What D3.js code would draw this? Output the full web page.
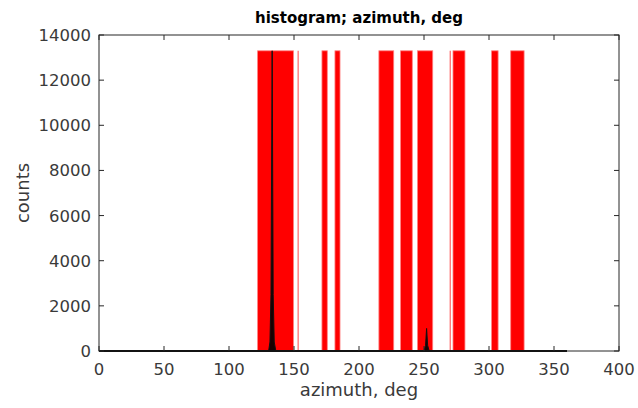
<!DOCTYPE html>
<html>
<head>
<meta charset="utf-8">
<script src="https://cdn.jsdelivr.net/npm/d3@7"></script>
<style>
  body { margin: 0; background: #fff; }
  text { font-family: "DejaVu Sans", sans-serif; }
</style>
</head>
<body>
<svg id="chart" width="638" height="408"></svg>
<script>
// red bands (azimuth ranges, deg) drawn full height
const bandStart = [122, 171.5, 181.5, 215.3, 232, 245, 272.3, 302, 316.7];
const bandEnd   = [149.6, 175.6, 185.4, 226.7, 241, 256.7, 281.5, 307, 327];
const bandHeight = 13300;
// thin pale lines
const thinLines = [153.2, 270.2];
// black histogram (azimuth, counts)
const histAz    = [0, 130.5, 131.5, 132.3, 133.2, 134, 134.8, 136, 250, 251.2, 252, 252.8, 254, 360];
const histCount = [0, 0, 400, 2500, 13300, 2500, 400, 0, 0, 250, 1000, 250, 0, 0];
// ticks
const xTicks = [0, 50, 100, 150, 200, 250, 300, 350, 400];
const yTicks = [0, 2000, 4000, 6000, 8000, 10000, 12000, 14000];

const margin = {top: 35, left: 99, right: 19, bottom: 57};
const W = 638, H = 408;
const svg = d3.select("#chart");

const x = d3.scaleLinear().domain([0, 400]).range([margin.left, W - margin.right]);
const y = d3.scaleLinear().domain([0, 14000]).range([H - margin.bottom, margin.top]);

// red bands
svg.append("g").selectAll("rect")
  .data(bandStart)
  .enter().append("rect")
  .attr("x", (d, i) => x(d))
  .attr("y", y(bandHeight))
  .attr("width", (d, i) => x(bandEnd[i]) - x(d))
  .attr("height", y(0) - y(bandHeight))
  .attr("fill", "#ff0000")
  .attr("stroke", "#ff8080")
  .attr("stroke-width", 0.8);

svg.append("g").selectAll("line")
  .data(thinLines)
  .enter().append("line")
  .attr("x1", d => x(d)).attr("x2", d => x(d))
  .attr("y1", y(bandHeight)).attr("y2", y(0))
  .attr("stroke", "#ff7070")
  .attr("stroke-width", 1.3);

// black histogram
const hist = histAz.map((d, i) => ({az: d, c: histCount[i]}));
svg.append("path")
  .datum(hist)
  .attr("d", d3.area().x(d => x(d.az)).y0(y(0)).y1(d => y(d.c)))
  .attr("fill", "#1a0000")
  .attr("stroke", "#111")
  .attr("stroke-width", 1);

// histogram line along baseline
svg.append("line")
  .attr("x1", x(0)).attr("x2", x(360))
  .attr("y1", y(0)).attr("y2", y(0))
  .attr("stroke", "#000")
  .attr("stroke-width", 2);

// axes box
const axColor = "#262626";
const txtColor = "#3a3a3a";
const tick = 5;
const g = svg.append("g");
g.append("rect")
  .attr("x", x(0)).attr("y", y(14000))
  .attr("width", x(400) - x(0)).attr("height", y(0) - y(14000))
  .attr("fill", "none").attr("stroke", axColor).attr("stroke-width", 1);

xTicks.forEach(t => {
  g.append("line").attr("x1", x(t)).attr("x2", x(t)).attr("y1", y(0)).attr("y2", y(0) - tick).attr("stroke", axColor);
  g.append("line").attr("x1", x(t)).attr("x2", x(t)).attr("y1", y(14000)).attr("y2", y(14000) + tick).attr("stroke", axColor);
  g.append("text")
    .attr("x", x(t)).attr("y", y(0) + 24)
    .attr("text-anchor", "middle")
    .attr("font-size", 16.5).attr("fill", txtColor)
    .text(t);
});
yTicks.forEach(t => {
  g.append("line").attr("x1", x(0)).attr("x2", x(0) + tick).attr("y1", y(t)).attr("y2", y(t)).attr("stroke", axColor);
  g.append("line").attr("x1", x(400)).attr("x2", x(400) - tick).attr("y1", y(t)).attr("y2", y(t)).attr("stroke", axColor);
  g.append("text")
    .attr("x", x(0) - 8).attr("y", y(t) + 6)
    .attr("text-anchor", "end")
    .attr("font-size", 16.5).attr("fill", txtColor)
    .text(t);
});

// labels
svg.append("text")
  .attr("x", (x(0) + x(400)) / 2).attr("y", 23)
  .attr("text-anchor", "middle")
  .attr("font-size", 15).attr("font-weight", "bold").attr("fill", "#000")
  .text("histogram; azimuth, deg");
svg.append("text")
  .attr("x", (x(0) + x(400)) / 2).attr("y", 396)
  .attr("text-anchor", "middle")
  .attr("font-size", 18).attr("fill", txtColor)
  .text("azimuth, deg");
svg.append("text")
  .attr("transform", "translate(29," + ((y(0) + y(14000)) / 2) + ") rotate(-90)")
  .attr("text-anchor", "middle")
  .attr("font-size", 18).attr("fill", txtColor)
  .text("counts");
</script>
</body>
</html>
